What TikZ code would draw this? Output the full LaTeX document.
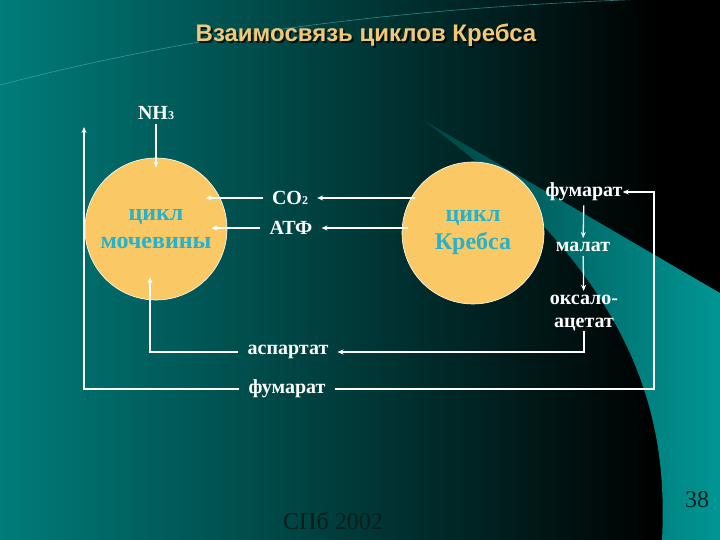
\documentclass[tikz,border=0pt]{standalone}
\usepackage{fontspec}
\setmainfont{Liberation Serif}
\newfontfamily\titlefont{Liberation Sans}
\usetikzlibrary{arrows.meta,positioning}

\definecolor{bgteal}{RGB}{0,124,122}
\definecolor{midteal}{RGB}{0,70,70}
\definecolor{wedgedark}{RGB}{0,66,66}
\definecolor{wedgelight}{RGB}{0,150,148}
\definecolor{swoosh}{RGB}{80,190,190}
\definecolor{titlegold}{RGB}{242,200,118}
\definecolor{cyclefill}{RGB}{250,200,100}
\definecolor{cycletext}{RGB}{38,178,204}
\definecolor{footdark}{RGB}{8,30,30}

\begin{document}
\begin{tikzpicture}[x=1pt, y=-1pt,
  cyc/.style={circle, draw=white, line width=0.6pt, fill=cyclefill, minimum size=142pt,
    inner sep=0pt, align=center, text=cycletext, font=\bfseries\fontsize{24}{28}\selectfont},
  lbl/.style={text=white, font=\bfseries\fontsize{20}{23}\selectfont, inner xsep=9pt,
    inner ysep=4pt, align=center},
  foot/.style={text=footdark, font=\fontsize{24}{28}\selectfont},
  edge/.style={white, line width=1.3pt, -{Stealth[length=6pt,width=5pt]}}
]
% background
\useasboundingbox (0,0) rectangle (720,540);
\shade[left color=bgteal, middle color=midteal, right color=black] (0,0) rectangle (660,540);
\fill[black] (660,0) rectangle (720,540);
\shade[left color=wedgedark, right color=wedgelight]
  (423,120) -- (720,293) -- (720,540) -- (662,540) .. controls (668,420) and (640,280) .. (423,120) -- cycle;
\draw[swoosh, line width=0.6pt, opacity=0.6] (0,85) .. controls (230,25) and (450,5) .. (680,-2);

% title
\node[text=black, opacity=0.7, font=\titlefont\bfseries\fontsize{24}{28}\selectfont] (titleshadow) at (368,37.5) {Взаимосвязь циклов Кребса};
\node[text=titlegold, font=\titlefont\bfseries\fontsize{24}{28}\selectfont] (title) at (366,35.5) {Взаимосвязь циклов Кребса};

% cycles
\node[cyc] (urea) at (156,229) {цикл\\мочевины};
\node[cyc] (krebs) at (473,233) {цикл\\Кребса};

% metabolites
\node[lbl] (nh3) at (156,113) {NH{\fontsize{12}{12}\selectfont 3}};
\node[lbl] (co2) at (290,198) {CO{\fontsize{12}{12}\selectfont 2}};
\node[lbl] (atp) at (291,228) {АТФ};
\node[lbl] (fum1) at (584,192) {фумарат};
\node[lbl] (mal) at (583,247) {малат};
\node[lbl] (oxa) at (584,313) {оксало-\\ацетат};
\node[lbl] (asp) at (288,352) {аспартат};
\node[lbl] (fum2) at (287,389) {фумарат};
\coordinate (loopL) at (84,127);
\coordinate (loopR) at (654,389);

% arrows
\draw[edge] (nh3) -- ([yshift=-10pt]urea.north);
\draw[edge] ([xshift=13pt]krebs.west |- co2.east) -- (co2.east);
\draw[edge] ([xshift=6pt]krebs.west |- atp.east) -- (atp.east);
\draw[edge] (co2.west) -- ([xshift=-22pt]urea.east |- co2.west);
\draw[edge] (atp.west) -- ([xshift=-16pt]urea.east |- atp.west);
\draw[edge] (fum1) -- (mal);
\draw[edge] (mal) -- (oxa);
\draw[edge] ([yshift=4pt]oxa.south) |- (asp.east);
\draw[edge] (asp.west) -| ([xshift=-6pt,yshift=23pt]urea.south);
\draw[edge] (fum2.east) -- (loopR) |- ([xshift=-9pt]fum1.east);
\draw[edge] (fum2.west) -| (loopL);

% footer
\node[foot] (place) at (333,521) {СПб 2002};
\node[foot] (page) at (697,500) {38};
\end{tikzpicture}
\end{document}
